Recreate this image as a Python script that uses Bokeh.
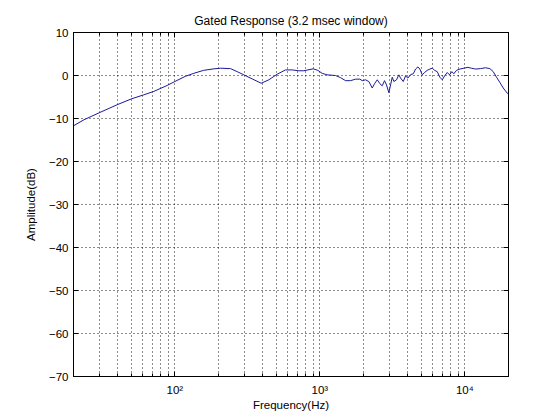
from bokeh.plotting import figure
from bokeh.models import FixedTicker, LinearAxis, LogAxis
from bokeh.embed import file_html
from bokeh.resources import INLINE

# ---- data ----
freq_hz = [20, 23.6, 30.4, 40, 50.5, 61, 71.6, 88.7, 100, 118, 135, 158, 186, 207,
           242, 269, 299, 342, 394, 445, 508, 580, 645, 716, 776, 827, 900, 968,
           1038, 1124, 1283, 1389, 1504, 1628, 1763, 1888, 1960, 2065, 2177, 2297,
           2395, 2488, 2594, 2692, 2793, 2883, 2992, 3074, 3157, 3239, 3379, 3506,
           3603, 3761, 3900, 4047, 4226, 4410, 4573, 4743, 4895, 5084, 5273, 5505,
           5741, 5962, 6183, 6450, 6726, 6988, 7247, 7560, 7842, 8135, 8395, 8762,
           9244, 9848, 10494, 11080, 11850, 12830, 13890, 14870, 15690, 16540,
           17430, 18390, 19600, 20000]
amp_db = [-11.7, -10.3, -8.6, -6.8, -5.4, -4.5, -3.7, -2.3, -1.4, -0.2, 0.5, 1.2, 1.55, 1.7,
          1.6, 0.9, 0.15, -0.8, -1.8, -1.0, 0.3, 1.3, 1.3, 1.1, 1.1, 1.3, 1.55, 1.2,
          0.5, 0.15, 0.0, -0.5, -1.2, -1.2, -0.85, -0.85, -1.2, -1.0, -1.4, -2.9,
          -1.8, -1.0, -1.9, -2.4, -1.2, -2.2, -4.0, -2.2, -0.4, -1.4, -1.0, 0.15,
          -0.6, -1.4, -0.1, -0.6, 0.2, 0.4, 1.5, 2.0, 1.5, 0.15, 0.7, 1.2,
          1.5, 1.7, 1.2, 0.9, -0.4, -1.0, -0.1, 0.7, 0.15, 0.9, 0.4, 1.2,
          1.5, 1.7, 1.9, 1.7, 1.5, 1.6, 1.8, 1.6, 0.9, -0.4,
          -1.6, -2.9, -4.1, -4.3]

x_major = [100, 1000, 10000]
x_major_labels = ["10\u00b2", "10\u00b3", "10\u2074"]
x_minor = [20, 30, 40, 50, 60, 70, 80, 90,
           200, 300, 400, 500, 600, 700, 800, 900,
           2000, 3000, 4000, 5000, 6000, 7000, 8000, 9000, 20000]
y_ticks = [-70, -60, -50, -40, -30, -20, -10, 0, 10]

title_text = "Gated Response (3.2 msec window)"
x_label = "Frequency(Hz)"
y_label = "Amplitude(dB)"

FONT = "Liberation Sans"
FS = "11.5px"

p = figure(width=556, height=416, x_axis_type="log",
           x_range=(20, 20000), y_range=(-70, 10),
           output_backend="svg", toolbar_location=None,
           min_border_left=73, min_border_right=48,
           min_border_top=32, min_border_bottom=40,
           title=title_text)

p.title.align = "center"
p.title.text_font = FONT
p.title.text_font_size = "12px"
p.title.text_font_style = "normal"
p.title.text_color = "black"
p.title.standoff = 9

p.background_fill_color = "white"
p.border_fill_color = "white"
p.outline_line_color = "black"
p.outline_line_alpha = 1.0
p.outline_line_width = 1

xt = FixedTicker(ticks=x_major, minor_ticks=x_minor)
yt = FixedTicker(ticks=y_ticks, minor_ticks=[])

def style_axis(ax, show_labels=True):
    ax.axis_line_color = "black"
    ax.major_tick_line_color = "black"
    ax.minor_tick_line_color = "black"
    ax.major_tick_in = 5
    ax.major_tick_out = 0
    ax.minor_tick_in = 3
    ax.minor_tick_out = 0
    ax.major_label_text_font = FONT
    ax.major_label_text_font_size = FS if show_labels else "0px"
    ax.major_label_text_color = "black"
    ax.axis_label_text_font = FONT
    ax.axis_label_text_font_size = FS
    ax.axis_label_text_font_style = "normal"
    ax.axis_label_text_color = "black"

xa = p.xaxis[0]
xa.ticker = xt
xa.major_label_overrides = {v: s for v, s in zip(x_major, x_major_labels)}
xa.axis_label = x_label
style_axis(xa)
xa.major_label_standoff = 7
xa.axis_label_standoff = 0

ya = p.yaxis[0]
ya.ticker = yt
ya.axis_label = y_label
style_axis(ya)
ya.minor_tick_line_color = None
ya.major_label_standoff = 5
ya.axis_label_standoff = 9

top = LogAxis(ticker=xt)
style_axis(top, show_labels=False)
top.major_label_overrides = {v: "" for v in x_major}
p.add_layout(top, "above")

right = LinearAxis(ticker=yt)
style_axis(right, show_labels=False)
right.minor_tick_line_color = None
right.major_label_overrides = {v: "" for v in y_ticks}
p.add_layout(right, "right")

for g in (p.xgrid[0], p.ygrid[0]):
    g.grid_line_color = "black"
    g.grid_line_dash = "1 3"
    g.grid_line_width = 1
    g.grid_line_alpha = 0.9
p.xgrid[0].ticker = xt
p.ygrid[0].ticker = yt
p.xgrid[0].minor_grid_line_color = "black"
p.xgrid[0].minor_grid_line_dash = "1 3"
p.xgrid[0].minor_grid_line_alpha = 0.9

p.line(freq_hz, amp_db, line_color="#1a1a9a", line_width=1)

open("out.html", "w").write(file_html(p, INLINE))
